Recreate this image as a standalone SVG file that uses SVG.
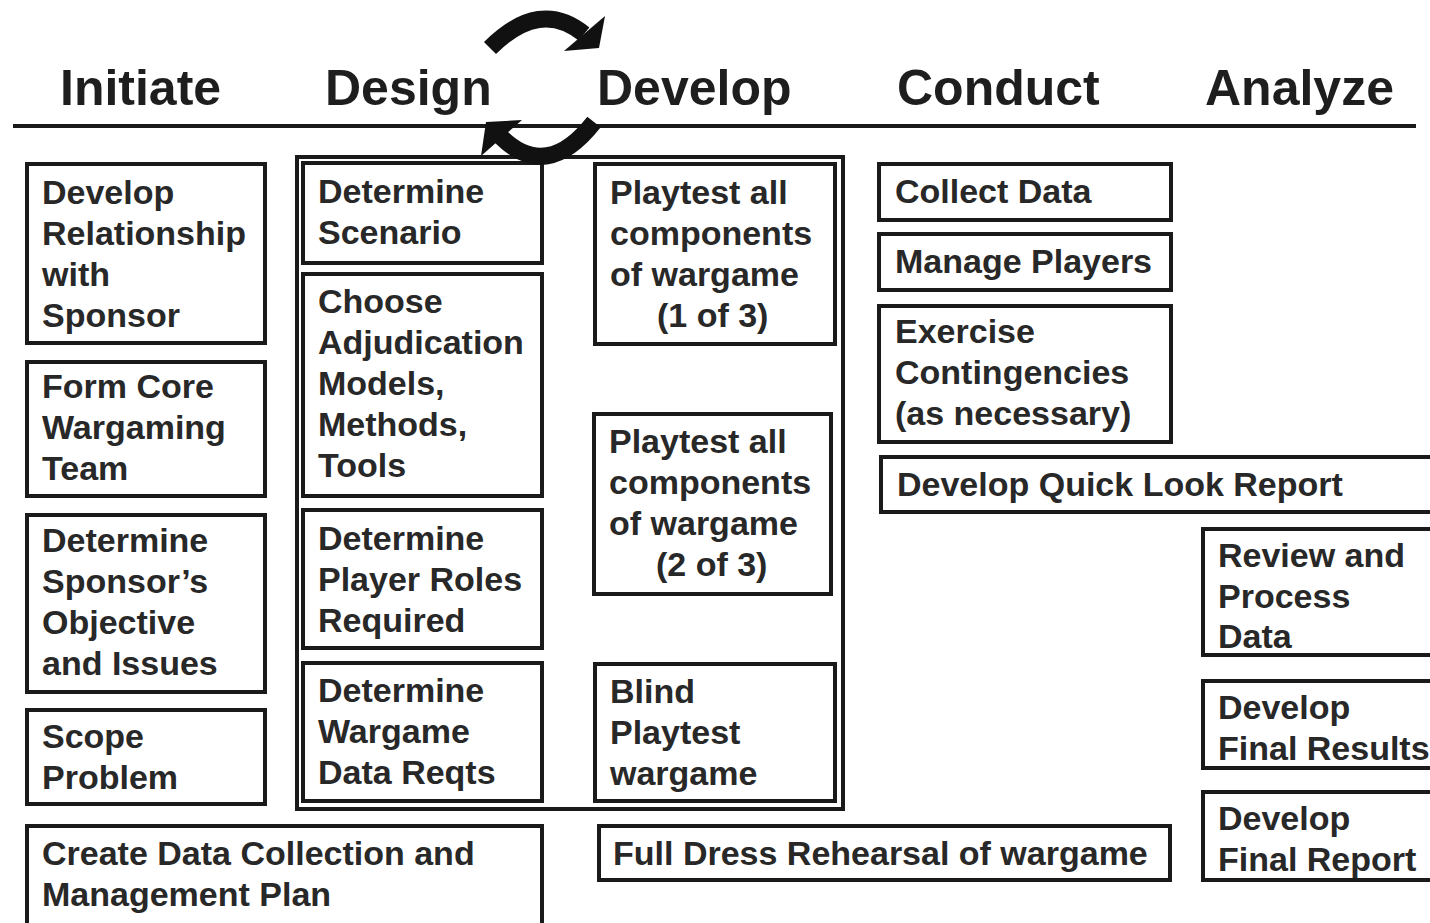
<svg xmlns="http://www.w3.org/2000/svg" width="1430" height="923" viewBox="0 0 1430 923">
<style>
.hd{font-family:"Liberation Sans",Arial,sans-serif;font-weight:bold;font-size:50px;fill:#1e1e1e}
.t{font-family:"Liberation Sans",Arial,sans-serif;font-weight:bold;font-size:34px;fill:#282828}
.b{fill:#fff;stroke:#1a1a1a;stroke-width:4}
.f{fill:none;stroke:#1a1a1a;stroke-width:4}
.arc{fill:none;stroke:#111;stroke-width:17}
</style>
<rect width="1430" height="923" fill="#fff"/>
<g id="header">
<text class="hd" x="60" y="105">Initiate</text>
<text class="hd" x="325" y="105">Design</text>
<text class="hd" x="597" y="105">Develop</text>
<text class="hd" x="897" y="105">Conduct</text>
<text class="hd" x="1205" y="105">Analyze</text>
<line x1="13" y1="126" x2="1416" y2="126" stroke="#1a1a1a" stroke-width="4"/>
</g>
<g id="frame">
<rect class="f" x="297" y="157" width="546" height="652"/>
</g>
<g id="initiate">
<g id="n-relationship"><rect class="b" x="27" y="164" width="238" height="179"/><text class="t" x="42" y="204">Develop<tspan x="42" dy="41">Relationship</tspan><tspan x="42" dy="41">with</tspan><tspan x="42" dy="41">Sponsor</tspan></text></g>
<g id="n-core"><rect class="b" x="27" y="362" width="238" height="134"/><text class="t" x="42" y="398">Form Core<tspan x="42" dy="41">Wargaming</tspan><tspan x="42" dy="41">Team</tspan></text></g>
<g id="n-objective"><rect class="b" x="27" y="515" width="238" height="177"/><text class="t" x="42" y="552">Determine<tspan x="42" dy="41">Sponsor’s</tspan><tspan x="42" dy="41">Objective</tspan><tspan x="42" dy="41">and Issues</tspan></text></g>
<g id="n-scope"><rect class="b" x="27" y="710" width="238" height="94"/><text class="t" x="42" y="748">Scope<tspan x="42" dy="41">Problem</tspan></text></g>
<g id="n-datacollection"><rect class="b" x="27" y="826" width="515" height="110"/><text class="t" x="42" y="865">Create Data Collection and<tspan x="42" dy="41">Management Plan</tspan></text></g>
</g>
<g id="design">
<g id="n-scenario"><rect class="b" x="303" y="163" width="239" height="100"/><text class="t" x="318" y="203">Determine<tspan x="318" dy="41">Scenario</tspan></text></g>
<g id="n-adjudication"><rect class="b" x="303" y="274" width="239" height="222"/><text class="t" x="318" y="313">Choose<tspan x="318" dy="41">Adjudication</tspan><tspan x="318" dy="41">Models,</tspan><tspan x="318" dy="41">Methods,</tspan><tspan x="318" dy="41">Tools</tspan></text></g>
<g id="n-roles"><rect class="b" x="303" y="510" width="239" height="138"/><text class="t" x="318" y="550">Determine<tspan x="318" dy="41">Player Roles</tspan><tspan x="318" dy="41">Required</tspan></text></g>
<g id="n-datareqts"><rect class="b" x="303" y="663" width="239" height="138"/><text class="t" x="318" y="702">Determine<tspan x="318" dy="41">Wargame</tspan><tspan x="318" dy="41">Data Reqts</tspan></text></g>
</g>
<g id="develop">
<g id="n-playtest1"><rect class="b" x="595" y="164" width="240" height="180"/><text class="t" x="610" y="204">Playtest all<tspan x="610" dy="41">components</tspan><tspan x="610" dy="41">of wargame</tspan><tspan x="657" dy="41">(1 of 3)</tspan></text></g>
<g id="n-playtest2"><rect class="b" x="594" y="414" width="237" height="180"/><text class="t" x="609" y="453">Playtest all<tspan x="609" dy="41">components</tspan><tspan x="609" dy="41">of wargame</tspan><tspan x="656" dy="41">(2 of 3)</tspan></text></g>
<g id="n-blind"><rect class="b" x="595" y="664" width="240" height="137"/><text class="t" x="610" y="703">Blind<tspan x="610" dy="41">Playtest</tspan><tspan x="610" dy="41">wargame</tspan></text></g>
<g id="n-rehearsal"><rect class="b" x="599" y="826" width="571" height="54"/><text class="t" x="613" y="865">Full Dress Rehearsal of wargame</text></g>
</g>
<g id="conduct">
<g id="n-collect"><rect class="b" x="879" y="164" width="292" height="56"/><text class="t" x="895" y="203">Collect Data</text></g>
<g id="n-manage"><rect class="b" x="879" y="234" width="292" height="56"/><text class="t" x="895" y="273">Manage Players</text></g>
<g id="n-exercise"><rect class="b" x="879" y="306" width="292" height="136"/><text class="t" x="895" y="343">Exercise<tspan x="895" dy="41">Contingencies</tspan><tspan x="895" dy="41">(as necessary)</tspan></text></g>
<g id="n-quicklook"><rect class="b" x="881" y="457" width="580" height="55"/><text class="t" x="897" y="496">Develop Quick Look Report</text></g>
</g>
<g id="analyze">
<g id="n-review"><rect class="b" x="1203" y="529" width="260" height="126"/><text class="t" x="1218" y="567">Review and<tspan x="1218" dy="41">Process</tspan><tspan x="1218" dy="40">Data</tspan></text></g>
<g id="n-results"><rect class="b" x="1203" y="681" width="260" height="87"/><text class="t" x="1218" y="719">Develop<tspan x="1218" dy="41">Final Results</tspan></text></g>
<g id="n-report"><rect class="b" x="1203" y="792" width="260" height="88"/><text class="t" x="1218" y="830">Develop<tspan x="1218" dy="41">Final Report</tspan></text></g>
</g>
<g id="connectors">
<path class="arc" d="M 490 48 Q 540 -2 584 34"/>
<polygon points="605,16 599,48 564,51" fill="#111"/>
<path class="arc" d="M 594 122 Q 547 182 501 137"/>
<polygon points="522,120 486,122 481,156" fill="#111"/>
</g>
</svg>
